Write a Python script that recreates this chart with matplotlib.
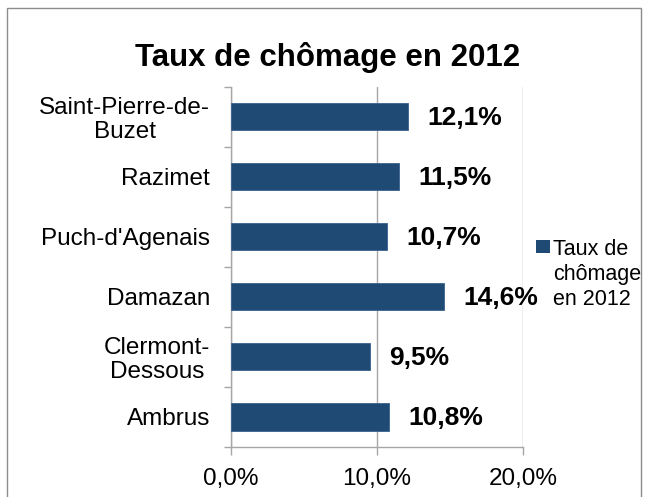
import matplotlib.pyplot as plt
from matplotlib.patches import Rectangle
from matplotlib.ticker import FuncFormatter

plt.rcParams['font.family'] = ['Liberation Sans', 'DejaVu Sans']

# Data (top to bottom as shown)
communes = ['Saint-Pierre-de-\nBuzet', 'Razimet', "Puch-d'Agenais", 'Damazan',
            'Clermont-\nDessous', 'Ambrus']
taux = [12.1, 11.5, 10.7, 14.6, 9.5, 10.8]
serie = 'Taux de chômage en 2012'

bar_color = '#1F4A73'
grid_color = '#A6A6A6'

fig = plt.figure(figsize=(6.48, 4.97), dpi=100)
ax = fig.add_axes([0.3565, 0.1006, 0.4506, 0.7244])

# bottom category first on the y axis
ypos = list(range(len(communes)))[::-1]
ax.barh(ypos, taux, height=0.45, color=bar_color, edgecolor='#3A628E',
        linewidth=0.6, zorder=3)

for y, v in zip(ypos, taux):
    ax.annotate(f'{v:.1f}%'.replace('.', ','), xy=(v, y), xytext=(14, -1),
                textcoords='offset points', va='center', ha='left',
                fontsize=19, fontweight='bold', color='black', zorder=4)

ax.set_xlim(0, 20)
ax.set_ylim(-0.5, len(communes) - 0.5)
ax.set_xticks([0, 10, 20])
ax.xaxis.set_major_formatter(FuncFormatter(lambda x, p: f'{x:.1f}%'.replace('.', ',')))
ax.set_yticks(ypos)
ax.set_yticklabels(communes, multialignment='center', linespacing=1.1)
ax.set_yticks([i - 0.5 for i in range(len(communes) + 1)], minor=True)
ax.tick_params(axis='y', which='major', length=0, pad=15, labelsize=17.5)
ax.tick_params(axis='y', which='minor', length=5, color=grid_color, width=1)
ax.tick_params(axis='x', length=6, color=grid_color, width=1, labelsize=17.5, pad=9)

ax.grid(axis='x', color=grid_color, linewidth=1, zorder=0)
for s in ['top', 'right']:
    ax.spines[s].set_visible(False)
for s in ['left', 'bottom']:
    ax.spines[s].set_color(grid_color)
    ax.spines[s].set_linewidth(1)

fig.text(0.506, 0.884, serie, ha='center', va='center', fontsize=22.5,
         fontweight='bold')

# legend
fig.patches.append(Rectangle((0.827, 0.491), 0.021, 0.026, transform=fig.transFigure,
                             facecolor=bar_color, edgecolor='none'))
fig.text(0.853, 0.447, 'Taux de\nchômage\nen 2012', ha='left', va='center',
         fontsize=15.5, linespacing=1.25)

# chart area border
fig.patches.append(Rectangle((0.011, -0.02), 0.978, 1.004, transform=fig.transFigure,
                             fill=False, edgecolor='#8C8C8C', linewidth=1))

fig.savefig('out.png', dpi=100)
